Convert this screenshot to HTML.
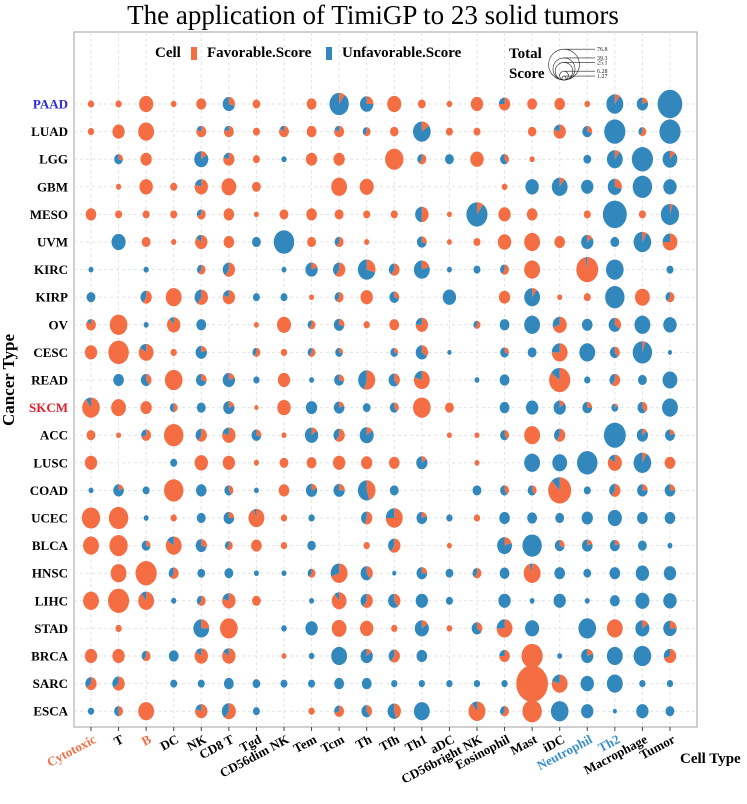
<!DOCTYPE html>
<html><head><meta charset="utf-8"><style>
body{margin:0;background:#fff;}
svg text{font-family:"Liberation Serif",serif;}
</style></head><body>
<svg id="chart" width="747" height="799" viewBox="0 0 747 799" xmlns="http://www.w3.org/2000/svg">
<text x="373" y="24" text-anchor="middle" font-size="27">The application of TimiGP to 23 solid tumors</text>
<rect x="74" y="32" width="623" height="695" fill="#fff" stroke="#a0a0a0" stroke-width="1"/>
<g id="grid"></g>
<g id="marks"></g>
<g id="axes"></g>
<g>
<text x="155" y="57" font-size="15" font-weight="bold">Cell</text>
<rect x="191" y="47" width="6" height="13" fill="#F46D43"/>
<text x="207" y="57" font-size="15" font-weight="bold">Favorable.Score</text>
<rect x="326" y="47" width="6" height="13" fill="#3288BD"/>
<text x="342" y="57" font-size="15" font-weight="bold">Unfavorable.Score</text>
<text x="509" y="58" font-size="15" font-weight="bold">Total</text>
<text x="509" y="78" font-size="15" font-weight="bold">Score</text>
<g id="sizeleg" fill="none" stroke="#222" stroke-width="0.6"></g>
</g>
<text transform="translate(14,380) rotate(-90)" text-anchor="middle" font-size="17" font-weight="bold">Cancer Type</text>
<text x="680" y="763" font-size="15" font-weight="bold">Cell Type</text>
</svg>
<script>
const cellTypes=["Cytotoxic","T","B","DC","NK","CD8 T","Tgd","CD56dim NK","Tem","Tcm","Th","Tfh","Th1","aDC","CD56bright NK","Eosinophil","Mast","iDC","Neutrophil","Th2","Macrophage","Tumor"];
const cancers=["PAAD","LUAD","LGG","GBM","MESO","UVM","KIRC","KIRP","OV","CESC","READ","SKCM","ACC","LUSC","COAD","UCEC","BLCA","HNSC","LIHC","STAD","BRCA","SARC","ESCA"];
const sizeTicks=[76.8,39.3,25.1,6.28,1.27];
const totPAAD=[2.9,2.9,14.5,2.3,7.1,11.1,4.4,0,7.1,27.5,13.1,14.5,4.4,2.3,11.1,9.3,7.1,8.2,2.3,21,9.3,44.5];
const favPAAD=[1,1,1,1,1,.3,1,0,1,.1,.25,1,1,1,1,.75,1,1,1,.1,.2,0];
const totLUAD=[2.9,11.1,18.4,0,7.1,7.1,3.6,7.1,7.1,7.1,4.4,5.2,22.7,3.6,3.6,0,5.2,11.1,7.1,32.7,4.4,32.7];
const favLUAD=[1,1,1,0,.8,.8,1,.85,1,.8,.6,1,.15,1,1,0,1,.8,.3,0,.6,0];
const totLGG=[0,5.7,9.3,0,14.5,9.3,3.6,2,9.3,9.3,0,24.6,5.7,5.7,13.1,5.7,2,0,4.4,18.4,32.7,16];
const favLGG=[0,.3,1,0,.15,.8,1,0,1,1,0,1,.6,0,1,.4,1,0,0,.1,0,.12];
const totGBM=[0,2,13.1,3.6,13.1,16,5.7,0,0,18.4,14.5,0,0,0,0,2.3,13.1,18.4,11.1,14.5,27.5,13.1];
const favGBM=[0,1,1,1,.8,1,1,0,0,1,1,0,0,0,0,1,0,.1,0,.3,0,0];
const totMESO=[8.2,3.6,3.6,3.6,5.7,8.2,1.8,5.7,8.2,5.7,3.6,3.6,13.1,1.8,32.7,11.1,8.2,0,3.6,42,3.6,24.6];
const favMESO=[1,1,1,1,.7,1,1,1,1,1,1,1,.5,1,.1,1,1,0,1,0,1,.05];
const totUVM=[0,14.5,5.7,2,11.1,8.2,5.7,30.6,5.7,5.7,2,0,7.1,1.8,3.6,13.1,18.4,8.2,11.1,5.7,22.7,16];
const favUVM=[0,0,1,1,.85,1,0,0,1,.6,1,0,.3,1,1,1,1,1,.15,0,.08,.75];
const totKIRC=[1.8,0,2,0,5.2,11.1,0,1.8,11.1,11.1,22.7,8.2,18.4,1.8,3.6,5.7,18.4,0,35,22.7,0,3.6];
const favKIRC=[0,0,0,0,.6,.6,0,0,.2,.6,.3,.6,.2,0,0,.6,1,0,.97,0,0,0];
const totKIRP=[5.7,0,9.3,18.4,13.1,11.1,3.6,3.6,1.8,5.7,11.1,7.1,0,13.1,0,9.3,18.4,1.8,3.6,27.5,16,5.7];
const favKIRP=[0,0,.6,1,.6,.8,0,0,1,.6,1,.3,0,0,0,1,.1,1,1,0,1,.6];
const totOV=[7.1,22.7,1.8,13.1,7.1,0,1.8,14.5,4.4,8.2,2.9,7.1,11.1,0,3.6,7.1,18.4,14.5,8.2,11.1,18.4,13.1];
const favOV=[.85,1,0,.9,0,0,1,1,.6,.3,1,1,.75,0,.6,0,0,.7,0,.35,0,0];
const totCESC=[11.1,30.6,16,2.9,9.3,0,4.4,2.9,4.4,4.4,0,4.4,11.1,1.3,0,5.7,5.7,18.4,18.4,7.1,27.5,1.3];
const favCESC=[1,1,.85,1,.2,0,.6,1,.6,.3,0,.3,.35,0,0,.3,0,.75,0,.4,.05,0];
const totREAD=[0,8.2,8.2,22.7,8.2,11.1,2.9,11.1,1.8,7.1,21,9.3,18.4,0,1.8,7.1,0,32.7,2.9,8.2,5.7,16];
const favREAD=[0,0,.4,1,.3,.2,0,1,0,.3,.55,.4,.8,0,0,0,0,.85,0,.6,0,0];
const totSKCM=[22.7,16,9.3,4.4,5.7,9.3,1.3,13.1,9.3,8.2,4.4,5.7,22.7,5.7,0,7.1,11.1,11.1,7.1,3.6,7.1,18.4];
const favSKCM=[.9,1,1,.5,0,.2,1,1,0,.2,0,.4,1,1,0,0,0,.15,.25,.2,.4,0];
const totACC=[5.7,1.8,7.1,27.5,9.3,13.1,7.1,1.8,13.1,9.3,14.5,0,0,1.8,1.8,5.7,18.4,9.3,0,35,9.3,7.1];
const favACC=[1,1,.7,1,.6,.8,.3,1,.15,.6,.15,0,0,1,1,.4,1,.6,0,0,.15,.2];
const totLUSC=[11.1,0,0,3.6,13.1,11.1,2,5.7,7.1,11.1,9.3,8.2,9.3,0,1.8,0,18.4,16,30.6,14.5,22.7,8.2];
const favLUSC=[1,0,0,0,1,1,1,1,1,1,1,1,.15,0,1,0,0,0,0,.85,.08,1];
const totCOAD=[1.8,8.2,3.6,27.5,8.2,5.7,1.8,8.2,9.3,9.3,22.7,5.7,0,0,5.7,5.7,5.7,38.4,3.6,9.3,8.2,8.2];
const favCOAD=[0,.2,0,1,0,.4,0,1,.2,.25,.45,0,0,0,0,.4,.4,.88,0,.6,.25,.25];
const totUCEC=[24.6,27.5,1.8,2.9,5.7,8.2,18.4,2.9,2.9,0,9.3,21,8.2,2.9,2.9,8.2,7.1,5.7,9.3,14.5,8.2,8.2];
const favUCEC=[1,1,0,1,0,.25,.95,1,0,0,.55,.75,.2,0,1,0,0,0,0,0,0,0];
const totBLCA=[18.4,24.6,5.7,18.4,9.3,4.4,8.2,2.9,5.2,0,2.9,11.1,0,1.8,0,16,27.5,7.1,8.2,7.1,5.7,1.8];
const favBLCA=[1,1,.3,.85,.3,.6,1,1,0,0,1,.6,0,1,0,.2,0,.3,.2,.2,0,0];
const totHNSC=[0,18.4,32.7,7.1,4.4,5.7,1.8,1.8,4.4,21,11.1,1.3,8.2,4.4,5.7,7.1,21,8.2,4.4,8.2,13.1,11.1];
const favHNSC=[0,1,1,.6,0,0,0,0,.6,.7,.4,0,.25,0,.6,0,.95,0,0,0,0,0];
const totLIHC=[18.4,32.7,18.4,2,5.7,13.1,5.7,0,1.8,16,11.1,11.1,11.1,3.6,0,11.1,1.8,11.1,1.8,7.1,14.5,13.1];
const favLIHC=[1,1,.9,0,.6,.8,1,0,0,.9,.6,.4,0,0,0,0,0,0,0,0,0,0];
const totSTAD=[0,2.9,0,0,18.4,22.7,0,2.3,11.1,16,13.1,2.9,14.5,2.3,8.2,18.4,14.5,0,22.7,18.4,14.5,13.1];
const favSTAD=[0,1,0,0,.25,1,0,0,0,1,1,1,.15,1,.35,.75,0,0,0,1,.15,.25];
const totBRCA=[11.1,11.1,5.7,7.1,13.1,13.1,0,1.8,2.3,18.4,11.1,9.3,8.2,0,0,8.2,32.7,1.8,11.1,18.4,22.7,11.1];
const favBRCA=[1,1,.6,0,.85,.85,0,1,0,0,.15,.6,0,0,0,.75,1,0,.2,0,0,.7];
const totSARC=[9.3,11.1,0,3.6,3.6,7.1,4.4,3.6,3.6,7.1,7.1,2.9,2.9,2.9,2.9,2.9,73.6,18.4,13.1,18.4,2.9,2.9];
const favSARC=[.65,.65,0,0,0,0,0,0,0,0,0,0,0,0,0,0,1,.8,0,0,0,0];
const totESCA=[2.9,5.7,18.4,0,11.1,14.5,3.6,0,2.9,7.1,8.2,13.1,18.4,0,21,5.7,27.5,22.7,11.1,1.3,11.1,5.7];
const favESCA=[0,.5,1,0,.8,.6,0,0,1,.7,.4,.45,0,0,.9,.6,1,0,0,0,0,0];

const totals=[totPAAD,totLUAD,totLGG,totGBM,totMESO,totUVM,totKIRC,totKIRP,totOV,totCESC,totREAD,totSKCM,totACC,totLUSC,totCOAD,totUCEC,totBLCA,totHNSC,totLIHC,totSTAD,totBRCA,totSARC,totESCA];
const favs=[favPAAD,favLUAD,favLGG,favGBM,favMESO,favUVM,favKIRC,favKIRP,favOV,favCESC,favREAD,favSKCM,favACC,favLUSC,favCOAD,favUCEC,favBLCA,favHNSC,favLIHC,favSTAD,favBRCA,favSARC,favESCA];

const NS="http://www.w3.org/2000/svg";
const ORANGE="#F46D43",BLUE="#3288BD";
function xScale(i){return 91+i*27.57;}
function yScale(j){return 104+j*27.6;}
function rScale(v){return Math.sqrt(v)*1.85;}
const YS=1.15;
function mk(t,a,p){const e=document.createElementNS(NS,t);for(const k in a)e.setAttribute(k,a[k]);p.appendChild(e);return e;}
const grid=document.getElementById('grid'),marks=document.getElementById('marks'),axes=document.getElementById('axes');
cellTypes.forEach((c,i)=>{const l=mk('line',{x1:xScale(i),x2:xScale(i),y1:32,y2:727,stroke:'#e2e2e2','stroke-dasharray':'3,3'},grid);


const t=mk('line',{x1:xScale(i),x2:xScale(i),y1:727,y2:731,stroke:'#444'},axes);


const col=(c==="Cytotoxic"||c==="B")?ORANGE:((c==="Neutrophil"||c==="Th2")?"#3a8fd0":"#000");
const tx=mk('text',{x:xScale(i)+6,y:742,'text-anchor':'end','font-size':13,'font-weight':'bold',fill:col,transform:`rotate(-28 ${xScale(i)+6} 742)`},axes);
tx.textContent=c;

});
cancers.forEach((c,j)=>{const l=mk('line',{x1:74,x2:697,y1:yScale(j),y2:yScale(j),stroke:'#e2e2e2','stroke-dasharray':'3,3'},grid);


const col=c==="PAAD"?"#2a2ae0":(c==="SKCM"?"#e0202a":"#000");
const t=mk('text',{x:68,y:yScale(j)+4.5,'text-anchor':'end','font-size':13,'font-weight':'bold',fill:col},axes);
t.textContent=c;

});
function wedge(cx,cy,r,a0,a1,fill,g){
 if(a1-a0>=0.9999){return mk('ellipse',{cx:cx,cy:cy,rx:r,ry:r*YS,fill:fill},g);}
 const p=(a)=>[cx+r*Math.sin(a*2*Math.PI),cy-r*YS*Math.cos(a*2*Math.PI)];
 const s=p(a0),e=p(a1),lg=(a1-a0)>0.5?1:0;
 return mk('path',{d:`M${cx},${cy} L${s[0]},${s[1]} A${r},${r*YS} 0 ${lg} 1 ${e[0]},${e[1]} Z`,fill:fill},g);}
totals.forEach((row,j)=>row.forEach((v,i)=>{if(!v)return;
 const g=mk('g',{},marks);
 
 
 const f=favs[j][i],r=rScale(v),cx=xScale(i),cy=yScale(j);
 if(f>0)wedge(cx,cy,r,0,f,ORANGE,g);
 if(f<1)wedge(cx,cy,r,f,1,BLUE,g);}));
const sl=document.getElementById('sizeleg');
sizeTicks.forEach(v=>{const r=rScale(v)*0.95;const cy=80-r;
 const c=mk('circle',{cx:564,cy:cy,r:r},sl);
 
 
 mk('line',{x1:564,x2:595,y1:cy-r,y2:cy-r},sl);
 const t=mk('text',{x:597,y:cy-r+2,'font-size':6,fill:'#222',stroke:'none'},sl);
 t.textContent=v;
 
 });
</script>
</body></html>
